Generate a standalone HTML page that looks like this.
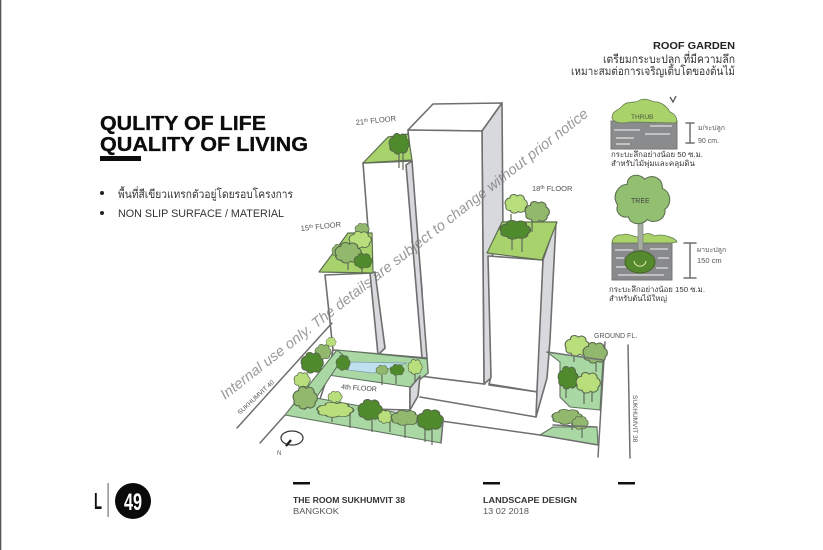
<!DOCTYPE html>
<html><head><meta charset="utf-8"><style>
html,body{margin:0;padding:0;background:#fff}
svg{display:block;filter:blur(.3px)}
text{font-family:"Liberation Sans","Noto Sans CJK SC","WenQuanYi Zen Hei",sans-serif}
.w{fill:#fff;stroke:#6f6f6f;stroke-width:1.6;stroke-linejoin:round}
.g{fill:#d8d9dc;stroke:#6f6f6f;stroke-width:1.6;stroke-linejoin:round}
.l{fill:none;stroke:#6f6f6f;stroke-width:1.5;stroke-linecap:round}
.r{fill:#a8d36c;stroke:#5d6f50;stroke-width:1.2;stroke-linejoin:round}
.p{fill:#a9d8a4;stroke:#60735f;stroke-width:1.1;stroke-linejoin:round}
.t{stroke:#5f6b5a;stroke-width:1.2;fill:none}
.b use{stroke:#55654a;stroke-width:.09}
.d{fill:#4f8a2c}.m{fill:#92b86e}.n{fill:#b9de7c}
</style></head><body>
<svg width="823" height="550" viewBox="0 0 823 550" xmlns="http://www.w3.org/2000/svg">
<defs><path id="b" d="M-.9 .2C-1.15 -.2 -.85 -.6 -.55 -.6C-.55 -1 -.1 -1.05 .1 -.8C.4 -1.05 .8 -.8 .75 -.45C1.1 -.3 1.1 .2 .85 .35C.9 .75 .45 .95 .2 .75C0 1 -.45 .95 -.5 .65C-.8 .7 -1 .45 -.9 .2Z"/></defs>
<rect width="823" height="550" fill="#fff"/>
<rect x="0" y="0" width="1.3" height="550" fill="#555"/>

<!-- left text -->
<text x="100" y="130" font-size="20" font-weight="700" fill="#0c0c0c" stroke="#0c0c0c" stroke-width=".3" textLength="166" lengthAdjust="spacingAndGlyphs">QULITY OF LIFE</text>
<text x="100" y="151" font-size="20" font-weight="700" fill="#0c0c0c" stroke="#0c0c0c" stroke-width=".3" textLength="208" lengthAdjust="spacingAndGlyphs">QUALITY OF LIVING</text>
<rect x="100" y="156" width="41" height="5" fill="#0c0c0c"/>
<circle cx="102" cy="193" r="2" fill="#222"/><circle cx="102" cy="213" r="2" fill="#222"/>
<text x="118" y="198" font-size="11.5" fill="#333" textLength="175" lengthAdjust="spacingAndGlyphs">พื้นที่สีเขียวแทรกตัวอยู่โดยรอบโครงการ</text>
<text x="118" y="217" font-size="11" fill="#333" textLength="166" lengthAdjust="spacingAndGlyphs">NON SLIP SURFACE / MATERIAL</text>

<!-- base lines -->
<path class="l" d="M420 376L485 384M489 385L538 392M420 397L536 417M420 418L540 435"/>

<!-- main tower -->
<path class="w" d="M408 130L433 104L502 103L482 131Z"/>
<path class="g" d="M482 131L502 103L503 235L490 260L491 378L484 384Z"/>
<path class="w" d="M408 130L482 131L484 384L420 376L422 290Z"/>

<!-- 21 tower -->
<path class="w" d="M363 163L412 161L422 358L378 355L372 280Z"/>
<path class="g" d="M406 165L412 161L427 358L422 358Z"/>
<path class="r" d="M363 163L388 137L408 134L412 160Z"/>

<!-- 15 tower -->
<path class="w" d="M325 275L373 273L385 348L378 355L333 350Z"/>
<path class="g" d="M370 273L375 272L385 348L378 355Z"/>
<path class="r" d="M319 272L348 233L372 233L373 273Z"/>

<!-- 18 tower -->
<path class="w" d="M488 256L543 260L538 392L489 384L491 377Z"/>
<path class="g" d="M543 260L556 222L550 340L547 378L536 417L537 390Z"/>
<path class="r" d="M487 253L502 222L557 222L542 260Z"/>

<!-- podium -->
<path class="w" d="M333 350L427 358L428 373L410 387L410 410L317 408L328 375Z" stroke="none"/>
<path class="p" d="M337 350L427 359L428 373L410 387L328 375Z"/>
<path d="M348 362L407 363L373 373L348 370Z" fill="#bfe0ee" stroke="#7d9fa8" stroke-width=".8"/>
<path class="p" d="M285 415L337 350L344 356L316 398L443 421L441 443Z"/>
<path class="g" d="M410 388L420 376L418 396L410 410Z"/>
<text x="341" y="389" font-size="7" fill="#444" transform="rotate(4 341 389)">4th FLOOR</text>

<!-- roads -->
<path class="l" d="M237 428L332 323M260 443L285 415"/>
<path class="l" d="M605 342L598 457M628 345L630 458"/>

<!-- ground -->
<path class="p" d="M547 352L603 360L600 410L570 407L560 397L560 362Z"/>
<path class="p" d="M540 435L553 427L597 427L598 445Z"/>

<!-- tree trunks -->
<path class="t" d="M399 152V168M403 152V170M348 262V270M362 268V274M511 214V222M532 222V232M512 238V250M522 238V252M574 356V362M596 362V372M566 388V398M584 392V404M592 392V402M572 424V430M582 428V438M295 395V404M305 402V410M320 405V415M332 412V422M350 414V428M372 418V432M390 420V432M405 425V438M425 428V442M432 428V445M382 375V385M396 376V384M415 372V382"/>

<!-- trees -->
<g class="b">
<use href="#b" class="d" transform="translate(399 144) scale(10 11)"/>
<use href="#b" class="m" transform="translate(362 229) scale(7 6)"/>
<use href="#b" class="n" transform="translate(360 240) scale(11 9)"/>
<use href="#b" class="m" transform="translate(338 251) scale(6 7)"/>
<use href="#b" class="m" transform="translate(348 253) scale(13 11)"/>
<use href="#b" class="d" transform="translate(363 261) scale(9 8)"/>
<use href="#b" class="n" transform="translate(516 204) scale(11 10)"/>
<use href="#b" class="m" transform="translate(537 212) scale(12 11)"/>
<use href="#b" class="d" transform="translate(515 230) scale(15 10)"/>
<use href="#b" class="m" transform="translate(323 352) scale(8 8)"/>
<use href="#b" class="n" transform="translate(331 342) scale(5 5)"/>
<use href="#b" class="d" transform="translate(312 363) scale(11 11)"/>
<use href="#b" class="d" transform="translate(343 363) scale(7 8)"/>
<use href="#b" class="n" transform="translate(302 380) scale(8 8)"/>
<use href="#b" class="m" transform="translate(305 398) scale(12 12)"/>
<use href="#b" class="n" transform="translate(335 397) scale(7 6)"/>
<use href="#b" class="n" transform="translate(335 410) scale(18 8)"/>
<use href="#b" class="d" transform="translate(370 410) scale(12 11)"/>
<use href="#b" class="n" transform="translate(385 417) scale(7 7)"/>
<use href="#b" class="m" transform="translate(405 418) scale(14 8)"/>
<use href="#b" class="d" transform="translate(430 420) scale(13 11)"/>
<use href="#b" class="n" transform="translate(415 367) scale(7 8)"/>
<use href="#b" class="d" transform="translate(397 370) scale(7 6)"/>
<use href="#b" class="m" transform="translate(382 370) scale(6 5)"/>
<use href="#b" class="n" transform="translate(577 346) scale(12 11)"/>
<use href="#b" class="m" transform="translate(595 353) scale(12 11)"/>
<use href="#b" class="d" transform="translate(568 378) scale(10 12)"/>
<use href="#b" class="n" transform="translate(588 383) scale(12 11)"/>
<use href="#b" class="m" transform="translate(567 417) scale(15 8)"/>
<use href="#b" class="m" transform="translate(580 423) scale(8 7)"/>
</g>
<path class="l" d="M547 352L603 360M553 425L597 427M540 435L598 445M443 421L441 443" stroke-width="1.1"/>

<!-- handwritten labels -->
<g fill="#555" font-size="7.5">
<text x="356" y="125" transform="rotate(-6 356 125)">21<tspan font-size="5" dy="-2">th</tspan><tspan dy="2"> FLOOR</tspan></text>
<text x="301" y="231" transform="rotate(-6 301 231)">15<tspan font-size="5" dy="-2">th</tspan><tspan dy="2"> FLOOR</tspan></text>
<text x="532" y="191">18<tspan font-size="5" dy="-2">th</tspan><tspan dy="2"> FLOOR</tspan></text>
<text x="594" y="338" font-size="7">GROUND FL.</text>
<text x="0" y="0" font-size="6.5" transform="translate(240 415) rotate(-43)">SUKHUMVIT 40</text>
<text x="0" y="0" font-size="6.5" transform="translate(633 395) rotate(90)">SUKHUMVIT 38</text>
<text x="277" y="455" font-size="6">N</text>
</g>
<ellipse cx="292" cy="438" rx="11" ry="7" fill="none" stroke="#333" stroke-width="1.2"/>
<path d="M286 446L291 440" stroke="#222" stroke-width="2.4"/>

<!-- right column -->
<text x="735" y="49" text-anchor="end" font-size="10.5" font-weight="700" fill="#222" textLength="82" lengthAdjust="spacingAndGlyphs">ROOF GARDEN</text>
<text x="735" y="63" text-anchor="end" font-size="11.5" fill="#333" textLength="132" lengthAdjust="spacingAndGlyphs">เตรียมกระบะปลูก ที่มีความลึก</text>
<text x="735" y="75" text-anchor="end" font-size="11.5" fill="#333" textLength="164" lengthAdjust="spacingAndGlyphs">เหมาะสมต่อการเจริญเติบโตของต้นไม้</text>

<rect x="611" y="121" width="66" height="28" fill="#8a8b8d" stroke="#777"/>
<path d="M614 130H640M650 126H672M616 138H634M645 134H670M616 144H630" stroke="#d4d4d4" stroke-width="1.4" fill="none"/>
<path d="M612 118C612 110 620 110 622 106C628 100 635 104 640 100C648 97 652 103 658 102C664 104 668 108 670 112C676 114 678 120 676 123L630 122C622 124 614 123 612 118Z" fill="#a9d26a" stroke="#667a52" stroke-width=".8"/>
<text x="631" y="119" font-size="6.5" fill="#4a5a3a">THRUB</text>
<path d="M670 97L673 102L676 96" fill="none" stroke="#555" stroke-width="1.3"/>
<path class="l" d="M690 123V143M686 123H694M686 143H694" stroke-width="1"/>
<text x="698" y="130" font-size="7" fill="#555">ม/ระปลูก</text><text x="698" y="143" font-size="7" fill="#555">90 cm.</text>
<text x="611" y="157" font-size="7.5" fill="#333" textLength="92" lengthAdjust="spacingAndGlyphs">กระบะลึกอย่างน้อย 50 ซ.ม.</text>
<text x="611" y="166" font-size="7.5" fill="#333" textLength="84" lengthAdjust="spacingAndGlyphs">สำหรับไม้พุ่มและคลุมดิน</text>

<rect x="612" y="243" width="60" height="37" fill="#898a8c" stroke="#777"/>
<path d="M615 250H633M650 249H668M616 258H624M658 258H669M616 267H626M656 268H668M618 275H664" stroke="#d2d2d2" stroke-width="1.4" fill="none"/>
<path d="M612 243C612 237 618 234 622 235C628 232 634 238 640 237C646 232 650 233 655 236C662 233 676 238 677 242L672 243Z" fill="#a9d26a" stroke="#667a52" stroke-width=".8"/>
<rect x="638" y="220" width="5" height="30" fill="#a5aca0" stroke="#777" stroke-width=".6"/>
<use href="#b" transform="translate(642 200) scale(27 26)" fill="#92bf70" stroke="#5c6f50" stroke-width=".04"/>
<text x="631" y="203" font-size="7" fill="#444">TREE</text>
<ellipse cx="640" cy="262" rx="15" ry="11" fill="#55892e" stroke="#44632a"/>
<path d="M634 261C635 268 645 268 646 261" stroke="#d6e8a0" fill="none"/>
<path class="l" d="M690 243V278M684 243H696M684 278H696" stroke-width="1"/>
<text x="697" y="252" font-size="7" fill="#555">ผาบะปลูก</text><text x="697" y="263" font-size="7.5" fill="#555">150 cm</text>
<text x="609" y="292" font-size="7.5" fill="#333" textLength="96" lengthAdjust="spacingAndGlyphs">กระบะลึกอย่างน้อย 150 ซ.ม.</text>
<text x="609" y="301" font-size="7.5" fill="#333" textLength="58" lengthAdjust="spacingAndGlyphs">สำหรับต้นไม้ใหญ่</text>

<!-- footer -->
<rect x="293" y="482" width="17" height="2.5" fill="#111"/>
<rect x="483" y="482" width="17" height="2.5" fill="#111"/><rect x="618" y="482" width="17" height="2.5" fill="#111"/>
<text x="293" y="503" font-size="8" font-weight="700" fill="#333" textLength="112" lengthAdjust="spacingAndGlyphs">THE ROOM SUKHUMVIT 38</text>
<text x="293" y="514" font-size="8" fill="#555" textLength="46" lengthAdjust="spacingAndGlyphs">BANGKOK</text>
<text x="483" y="503" font-size="8" font-weight="700" fill="#333" textLength="94" lengthAdjust="spacingAndGlyphs">LANDSCAPE DESIGN</text>
<text x="483" y="514" font-size="8" fill="#555" textLength="46" lengthAdjust="spacingAndGlyphs">13 02 2018</text>
<text x="94" y="509" font-size="23" font-weight="700" fill="#111" textLength="8" lengthAdjust="spacingAndGlyphs">L</text>
<rect x="107.5" y="483" width="1.2" height="34" fill="#777"/>
<circle cx="133" cy="501" r="18" fill="#0a0a0a"/>
<text x="124" y="510" font-size="24" font-weight="700" fill="#fff" textLength="18" lengthAdjust="spacingAndGlyphs">49</text>

<!-- watermark -->
<text transform="translate(225 400) rotate(-38)" font-size="14.5" font-style="italic" fill="#757575" fill-opacity=".75" textLength="462" lengthAdjust="spacing">Internal use only. The details are subject to change without prior notice</text>
</svg>
</body></html>
